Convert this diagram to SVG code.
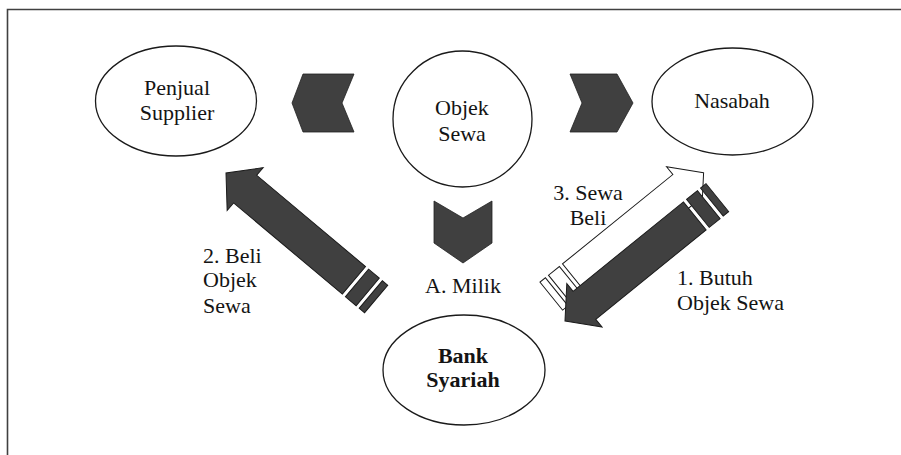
<svg xmlns="http://www.w3.org/2000/svg" xmlns:xlink="http://www.w3.org/1999/xlink" width="901" height="455" viewBox="0 0 901 455">
  <style>
    .node { fill: #ffffff; stroke: #1a1a1a; stroke-width: 1.3; }
    .lbl { font-family: Liberation Serif, Noto Serif, DejaVu Serif, Times New Roman, Times, serif; font-size: 22px; fill: #141414; }
    .mid { text-anchor: middle; }
    .bold { font-weight: bold; }
    .chev { fill: #404040; stroke: #222222; stroke-width: 0.8; stroke-linejoin: miter; }
    .dark { fill: #404040; stroke: #1a1a1a; stroke-width: 1; }
    .light { fill: #ffffff; stroke: #1a1a1a; stroke-width: 1; }
  </style>
  <defs>
    <!-- striped block arrow: tip at the origin, pointing along +x -->
    <g id="stripedArrow">
      <path d="M0,0 L-25,-28 L-25,-18 L-167,-18 L-167,18 L-25,18 L-25,28 Z"/>
      <path d="M-171,-18 L-185,-18 L-185,18 L-171,18 Z"/>
      <path d="M-189,-18 L-196,-18 L-196,18 L-189,18 Z"/>
    </g>
  </defs>

  <rect x="0" y="0" width="901" height="455" fill="#ffffff"/>
  <!-- frame -->
  <path d="M7.5,455 V9.5 H901" fill="none" stroke="#404040" stroke-width="1.6"/>

  <g id="connectors">
    <!-- chevrons from Objek Sewa -->
    <path class="chev" d="M303,74 L354,74 L342,103 L354,132 L303,132 L292,103 Z"/>
    <path class="chev" d="M570,74 L617,74 L633,103 L617,132 L570,132 L582,103 Z"/>
    <path class="chev" d="M434,201 L463,218 L492,201 L492,243 L463,263 L434,243 Z"/>
    <!-- 2. Beli Objek Sewa -->
    <use xlink:href="#stripedArrow" class="dark" transform="translate(226,173) rotate(-140)"/>
    <!-- 3. Sewa Beli -->
    <use xlink:href="#stripedArrow" class="light" transform="translate(703.6,172.8) rotate(-39)"/>
    <!-- 1. Butuh Objek Sewa -->
    <use xlink:href="#stripedArrow" class="dark" transform="translate(565,321) rotate(141)"/>
  </g>

  <g id="penjual">
    <ellipse class="node" cx="176" cy="101" rx="80.5" ry="55"/>
    <text class="lbl mid" x="177" y="95">Penjual</text>
    <text class="lbl mid" x="177" y="120">Supplier</text>
  </g>

  <g id="objek-sewa">
    <ellipse class="node" cx="462.5" cy="119" rx="69.5" ry="68"/>
    <text class="lbl mid" x="462" y="115">Objek</text>
    <text class="lbl mid" x="462" y="141">Sewa</text>
  </g>

  <g id="nasabah">
    <ellipse class="node" cx="732.5" cy="101.5" rx="80.5" ry="53.5"/>
    <text class="lbl mid" x="732" y="108">Nasabah</text>
  </g>

  <g id="bank-syariah">
    <ellipse class="node" cx="464" cy="370" rx="81" ry="55"/>
    <text class="lbl mid bold" x="463" y="363">Bank</text>
    <text class="lbl mid bold" x="463" y="387">Syariah</text>
  </g>

  <g id="labels">
    <text class="lbl" x="203" y="263">2. Beli</text>
    <text class="lbl" x="203" y="287">Objek</text>
    <text class="lbl" x="203" y="313">Sewa</text>
    <text class="lbl mid" x="463" y="293">A. Milik</text>
    <text class="lbl mid" x="588" y="200">3. Sewa</text>
    <text class="lbl mid" x="588" y="225">Beli</text>
    <text class="lbl" x="677" y="285">1. Butuh</text>
    <text class="lbl" x="677" y="310">Objek Sewa</text>
  </g>
</svg>
